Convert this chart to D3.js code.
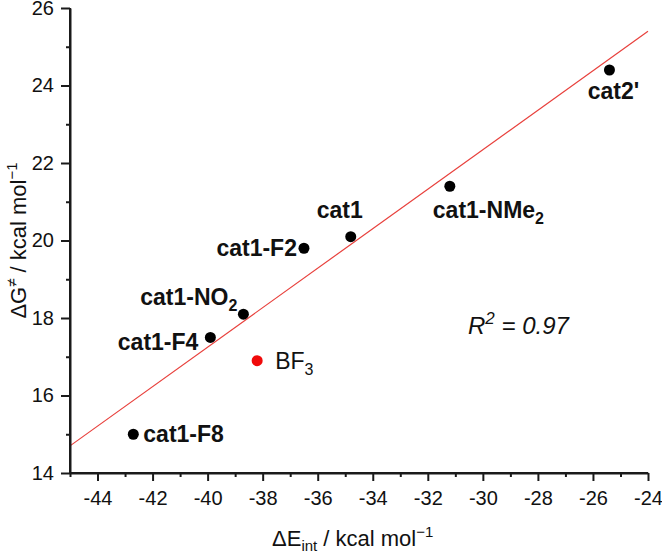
<!DOCTYPE html>
<html>
<head>
<meta charset="utf-8">
<script src="https://cdn.jsdelivr.net/npm/d3@7"></script>
<style>
  html, body { margin: 0; padding: 0; background: #fff; }
  svg { display: block; font-family: "Liberation Sans", Arial, sans-serif; }
</style>
</head>
<body>
<svg id="chart" width="662" height="554"></svg>
<script>
// ---- data ----
const names   = ["cat1-F8", "BF3", "cat1-F4", "cat1-NO2", "cat1-F2", "cat1", "cat1-NMe2", "cat2'"];
const eInt    = [-42.7, -38.2, -39.9, -38.7, -36.5, -34.8, -31.2, -25.4];
const dG      = [15.0, 16.9, 17.5, 18.1, 19.8, 20.1, 21.4, 24.4];
const fitX    = [-45, -24];
const fitY    = [14.7, 25.4];
const xTicks  = [-44, -42, -40, -38, -36, -34, -32, -30, -28, -26, -24];
const yTicks  = [14, 16, 18, 20, 22, 24, 26];
const rSquared = "0.97";

// ---- layout / style ----
const svg = d3.select("#chart");
const x = d3.scaleLinear().domain([-45, -24]).range([70, 648]);
const y = d3.scaleLinear().domain([14, 26]).range([473, 8]);
const axisColor = "#1a1a1a";

// label placement (text, anchor, dx, dy, weight)
const labelStyle = {
  "cat1-F8":   {main: "cat1-F8", sub: "", anchor: "start",  dx: 10,  dy: 8,  bold: true},
  "BF3":       {main: "BF", sub: "3",     anchor: "start",  dx: 18,  dy: 8,  bold: false},
  "cat1-F4":   {main: "cat1-F4", sub: "", anchor: "end",    dx: -12, dy: 13, bold: true},
  "cat1-NO2":  {main: "cat1-NO", sub: "2",anchor: "end",    dx: -6,  dy: -9, bold: true},
  "cat1-F2":   {main: "cat1-F2", sub: "", anchor: "end",    dx: -7,  dy: 8,  bold: true},
  "cat1":      {main: "cat1", sub: "",    anchor: "middle", dx: -11, dy: -19,bold: true},
  "cat1-NMe2": {main: "cat1-NMe", sub: "2",anchor: "start", dx: -17, dy: 32, bold: true},
  "cat2'":     {main: "cat2'", sub: "",   anchor: "middle", dx: 4,   dy: 29, bold: true}
};

// ---- regression line ----
svg.append("line")
  .attr("x1", x(fitX[0])).attr("y1", y(fitY[0]))
  .attr("x2", x(fitX[1])).attr("y2", y(fitY[1]))
  .attr("stroke", "#e8403c").attr("stroke-width", 1.2);

// ---- axes ----
const minorX = d3.range(-45, -23, 1).filter(v => Math.abs(v % 2) === 1);
const minorY = d3.range(15, 26, 2);
const fmt = d => String(d);

const gx = svg.append("g").attr("transform", `translate(0,${y(14)})`);
gx.call(d3.axisBottom(x).tickValues(xTicks).tickSize(8).tickPadding(10).tickSizeOuter(0).tickFormat(fmt));
const gxm = svg.append("g").attr("transform", `translate(0,${y(14)})`);
gxm.call(d3.axisBottom(x).tickValues(minorX).tickSize(4).tickFormat("").tickSizeOuter(0));

const gy = svg.append("g").attr("transform", `translate(${x(-45)},0)`);
gy.call(d3.axisLeft(y).tickValues(yTicks).tickSize(9).tickPadding(7).tickSizeOuter(0).tickFormat(fmt));
const gym = svg.append("g").attr("transform", `translate(${x(-45)},0)`);
gym.call(d3.axisLeft(y).tickValues(minorY).tickSize(4).tickFormat("").tickSizeOuter(0));

[gx, gxm, gy, gym].forEach(g => {
  g.select(".domain").attr("stroke", axisColor).attr("stroke-width", 2);
  g.selectAll(".tick line").attr("stroke", axisColor).attr("stroke-width", 2);
  g.selectAll(".tick text").attr("fill", "#111").style("font-size", "20px")
    .style("font-family", "'Liberation Sans', Arial, sans-serif");
});
gx.select(".domain").attr("d", `M${x(-45)},0H${x(-24)}`);
gy.select(".domain").attr("d", `M0,${y(14)}V${y(26)}`);

// ---- points ----
const pts = names.map((n, i) => ({name: n, x: eInt[i], y: dG[i]}));
svg.append("g").selectAll("circle").data(pts).join("circle")
  .attr("cx", d => x(d.x)).attr("cy", d => y(d.y)).attr("r", 5.5)
  .attr("fill", d => d.name === "BF3" ? "#f00a0a" : "#000");

// ---- labels ----
const lab = svg.append("g").selectAll("text").data(pts).join("text")
  .attr("x", d => x(d.x) + labelStyle[d.name].dx)
  .attr("y", d => y(d.y) + labelStyle[d.name].dy)
  .attr("text-anchor", d => labelStyle[d.name].anchor)
  .attr("font-weight", d => labelStyle[d.name].bold ? "bold" : "normal")
  .style("font-size", "23px")
  .attr("fill", "#111");
lab.each(function(d) {
  const s = labelStyle[d.name];
  const t = d3.select(this);
  t.append("tspan").text(s.main);
  if (s.sub) t.append("tspan").attr("dy", 6).style("font-size", "16px").text(s.sub);
});

// ---- R^2 ----
const rt = svg.append("text").attr("x", 468).attr("y", 334)
  .style("font-size", "24px").style("font-style", "italic").attr("fill", "#111");
rt.append("tspan").text("R");
rt.append("tspan").attr("dy", -10).style("font-size", "17px").text("2");
rt.append("tspan").attr("dy", 10).text(" = " + rSquared);

// ---- axis titles ----
const xt = svg.append("text").attr("x", 272).attr("y", 546)
  .style("font-size", "22px").attr("fill", "#111");
xt.append("tspan").text("\u0394E");
xt.append("tspan").attr("dy", 5).style("font-size", "15px").text("int");
xt.append("tspan").attr("dy", -5).text(" / kcal mol");
xt.append("tspan").attr("dy", -9).style("font-size", "15px").text("\u22121");

const yt = svg.append("text")
  .attr("transform", `translate(26,${(y(14) + y(26)) / 2}) rotate(-90)`)
  .attr("text-anchor", "middle")
  .style("font-size", "22px").attr("fill", "#111");
yt.append("tspan").text("\u0394G");
yt.append("tspan").attr("dy", -9).style("font-size", "15px").text("\u2260");
yt.append("tspan").attr("dy", 9).text(" / kcal mol");
yt.append("tspan").attr("dy", -9).style("font-size", "15px").text("\u22121");
</script>
</body>
</html>
